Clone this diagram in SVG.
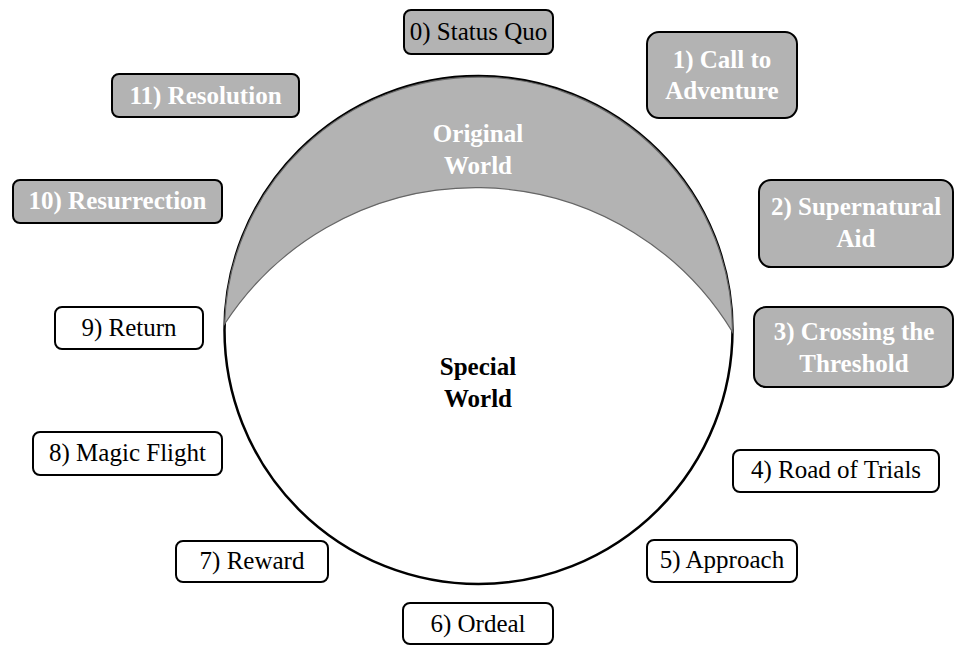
<svg xmlns="http://www.w3.org/2000/svg" width="954" height="646" viewBox="0 0 954 646">
<style>
.g rect{fill:#b3b3b3;stroke:#000;stroke-width:2}
.w rect{fill:#fff;stroke:#000;stroke-width:2}
text{font-family:"Liberation Serif", serif;font-size:25px;text-anchor:middle}
.b{fill:#fff;font-weight:bold}
.k{fill:#000}
.kb{fill:#000;font-weight:bold}
</style>
<rect width="954" height="646" fill="#fff"/>
<g id="world">
<circle cx="478.5" cy="330" r="254" fill="#fff" stroke="#000" stroke-width="2.5"/>
<path d="M224.6,324 A300,300 0 0,1 732.5,332 A254,254 0 0,0 224.6,324 Z" fill="#b3b3b3" stroke="#666" stroke-width="1.2"/>
<text class="b" x="478" y="142">Original</text>
<text class="b" x="478" y="174">World</text>
<text class="kb" x="478" y="375">Special</text>
<text class="kb" x="478" y="407">World</text>
</g>
<g id="connectors"></g>
<g id="n0" class="g"><rect x="404" y="10" width="149" height="44" rx="7"/><text class="k" x="478.5" y="40">0) Status Quo</text></g>
<g id="n1" class="g"><rect x="647" y="32" width="150" height="86" rx="12"/><text class="b" x="722" y="68">1) Call to</text><text class="b" x="722" y="99">Adventure</text></g>
<g id="n2" class="g"><rect x="759" y="180" width="194" height="87" rx="12"/><text class="b" x="856" y="215">2) Supernatural</text><text class="b" x="856" y="247">Aid</text></g>
<g id="n3" class="g"><rect x="754" y="307" width="199" height="80" rx="12"/><text class="b" x="854" y="340">3) Crossing the</text><text class="b" x="854" y="372">Threshold</text></g>
<g id="n4" class="w"><rect x="733" y="450" width="206" height="42" rx="7"/><text class="k" x="836" y="478">4) Road of Trials</text></g>
<g id="n5" class="w"><rect x="647" y="540" width="150" height="42" rx="7"/><text class="k" x="722" y="568">5) Approach</text></g>
<g id="n6" class="w"><rect x="403" y="603" width="150" height="41" rx="7"/><text class="k" x="478" y="632">6) Ordeal</text></g>
<g id="n7" class="w"><rect x="176" y="541" width="152" height="41" rx="7"/><text class="k" x="252" y="569">7) Reward</text></g>
<g id="n8" class="w"><rect x="33" y="432" width="189" height="43" rx="7"/><text class="k" x="127.5" y="461">8) Magic Flight</text></g>
<g id="n9" class="w"><rect x="55" y="307" width="148" height="42" rx="7"/><text class="k" x="129" y="336">9) Return</text></g>
<g id="n10" class="g"><rect x="13" y="180" width="209" height="43" rx="7"/><text class="b" x="117.5" y="209">10) Resurrection</text></g>
<g id="n11" class="g"><rect x="112" y="74" width="187" height="43" rx="7"/><text class="b" x="205.5" y="104">11) Resolution</text></g>
</svg>
